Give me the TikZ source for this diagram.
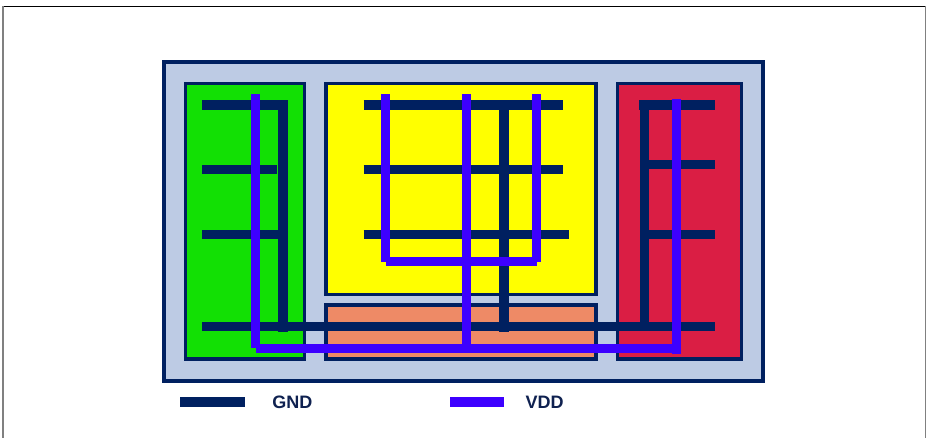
\documentclass[tikz,border=0pt]{standalone}
\usepackage{fontspec}
\setmainfont{Liberation Sans}
\usepackage{xcolor}
\definecolor{railNavy}{HTML}{002060}
\definecolor{railViolet}{HTML}{3D00FF}
\definecolor{dieBlue}{HTML}{BDCBE4}
\definecolor{blockGreen}{HTML}{12E004}
\definecolor{blockYellow}{HTML}{FFFF00}
\definecolor{blockRed}{HTML}{DA1E44}
\definecolor{blockOrange}{HTML}{EE8A66}
\definecolor{labelNavy}{HTML}{0F2150}
\usetikzlibrary{positioning}

\begin{document}
\begin{tikzpicture}[
    x=1pt,
    y=-1pt,
    block/.style={
        draw=railNavy,
        line width=3.4pt,
        rectangle,
        anchor=north west,
        inner sep=0pt
    },
    gnd/.style={
        draw=railNavy,
        line width=9.5pt
    },
    vdd/.style={
        draw=railViolet,
        line width=9.3pt
    },
    legendtext/.style={
        font=\bfseries\fontsize{18pt}{20pt}\selectfont,
        text=labelNavy,
        inner sep=0pt
    }
]
\useasboundingbox (0,0) rectangle (927,438);

% Page frame
\draw[black, line width=1pt] (3,6.5) -- (926,6.5);
\draw[gray, line width=1.2pt] (3,6.5) -- (3,438);
\draw[gray, line width=1.2pt] (925.5,6.5) -- (925.5,438);

% Blocks
\node[block, fill=dieBlue, line width=3.6pt, minimum width=599.4pt, minimum height=319.1pt] (die) at (162,60) {};
\node[block, fill=blockGreen, minimum width=118.6pt, minimum height=275.6pt] (greenBlock) at (184,81.7) {};
\node[block, fill=blockYellow, minimum width=270pt, minimum height=210.9pt] (yellowBlock) at (324.3,81.7) {};
\node[block, fill=blockOrange, minimum width=270pt, minimum height=54pt] (orangeBlock) at (324.3,303.3) {};
\node[block, fill=blockRed, minimum width=124.2pt, minimum height=275.6pt] (redBlock) at (615.7,81.7) {};

% GND, left block
\draw[gnd] (202,105) -- (288.3,105);
\draw[gnd] (202,169.7) -- (277,169.7);
\draw[gnd] (202,234.7) -- (283,234.7);
\draw[gnd] (283,105) -- (283,331.7);

% GND, middle block
\draw[gnd] (363.7,105) -- (563.3,105);
\draw[gnd] (363.7,169.7) -- (563.3,169.7);
\draw[gnd] (363.7,234.7) -- (569,234.7);
\draw[gnd] (504,105) -- (504,331.7);

% GND, right block
\draw[gnd] (639,105) -- (715,105);
\draw[gnd] (644.5,164.5) -- (715,164.5);
\draw[gnd] (644.5,234.7) -- (715,234.7);
\draw[gnd] (644.5,105) -- (644.5,326.7);

% GND, bottom rail
\draw[gnd] (202,326.7) -- (715,326.7);

% VDD
\draw[vdd] (255.7,94) -- (255.7,348);
\draw[vdd] (256,348.2) -- (676.7,348.2);
\draw[vdd] (676.7,99.3) -- (676.7,353.7);
\draw[vdd] (466.5,94) -- (466.5,348.2);
\draw[vdd] (385.5,94) -- (385.5,261.8);
\draw[vdd] (385.5,261.8) -- (536.5,261.8);
\draw[vdd] (536.5,94) -- (536.5,261.8);

% Legend
\coordinate (gndKeyA) at (180,402);
\coordinate (gndKeyB) at (245,402);
\coordinate (vddKeyA) at (450,402);
\coordinate (vddKeyB) at (504.3,402);
\draw[gnd] (gndKeyA) -- (gndKeyB);
\draw[vdd] (vddKeyA) -- (vddKeyB);
\node[legendtext, right=27.1pt of gndKeyB] (gndLabel) {GND};
\node[legendtext, right=21.2pt of vddKeyB] (vddLabel) {VDD};

\end{tikzpicture}
\end{document}
